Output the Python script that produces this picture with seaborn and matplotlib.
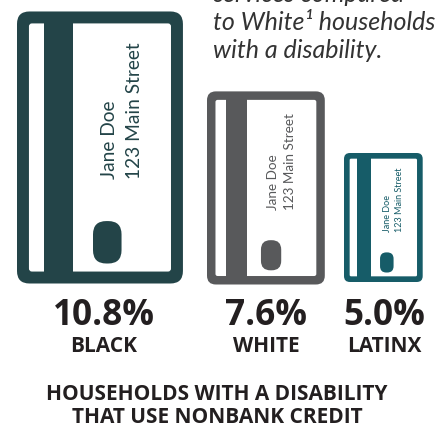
import matplotlib
matplotlib.use("Agg")
import matplotlib.pyplot as plt
from matplotlib.patches import FancyBboxPatch
import pandas as pd
import seaborn as sns

# Share of households with a disability that use nonbank credit
groups = ["BLACK", "WHITE", "LATINX"]
shares = [10.8, 7.6, 5.0]
share_labels = ["10.8%", "7.6%", "5.0%"]
card_colors = ["#234448", "#58595b", "#165c68"]
holder_name = "Jane Doe"
holder_address = "123 Main Street"
intro_lines = ["services compared", "to White\u00b9 households", "with a disability."]
caption_lines = ["HOUSEHOLDS WITH A DISABILITY", "THAT USE NONBANK CREDIT"]

W, H = 441, 424
PX_PER_UNIT = 24.66      # card height per percentage point
ZERO_PX = 280.7          # pixel row of a 0% card
EDGE_PAD = 2.85          # card outline beyond the value, in pixels
ASPECT = 0.61            # card width / height
left_px = [17.0, 207.0, 344.0]
base_px = [283.5, 284.5, 282.0]
name_sizes = [13.8, 9.7, 6.5]

sns.set_theme(style="white")
plt.rcParams["font.family"] = ["Lato", "DejaVu Sans"]
BOLD_FONT = ["Open Sans", "DejaVu Sans"]
INK = "#231f20"

fig = plt.figure(figsize=(W / 100, H / 100), dpi=100, facecolor="white")
ax = fig.add_axes([0, 0, 1, 1])

table = pd.DataFrame({"group": groups, "share": shares})
sns.barplot(data=table, x="group", y="share", hue="group", palette=card_colors,
            legend=False, ax=ax, saturation=1, width=0.5, linewidth=0)
ax.set_axis_off()
ax.set_xlim(0, W)
ax.set_ylim((ZERO_PX - H) / PX_PER_UNIT, ZERO_PX / PX_PER_UNIT)
bars = list(ax.patches)


def to_y(px):
    return (ZERO_PX - px) / PX_PER_UNIT


def rounded(x, y_px, w, h_px, radius, color, z):
    """Rounded box placed in pixel-like units on the value axis."""
    patch = FancyBboxPatch((x, to_y(y_px)), w, h_px / PX_PER_UNIT,
                           boxstyle=f"round,pad=0,rounding_size={radius}",
                           mutation_aspect=1 / PX_PER_UNIT,
                           fc=color, ec="none", zorder=z)
    ax.add_patch(patch)


for bar, share, x0, base, color, size in zip(bars, shares, left_px, base_px,
                                             card_colors, name_sizes):
    card_h = share * PX_PER_UNIT + 2 * EDGE_PAD
    card_w = card_h * ASPECT
    stroke = card_w * 0.072

    rounded(x0, base, card_w, card_h, card_w * 0.075, color, 1)
    rounded(x0 + stroke, base - stroke, card_w - 2 * stroke, card_h - 2 * stroke,
            card_w * 0.018, "white", 2)

    # The magnetic stripe is the bar itself
    bar.set_x(x0 + card_w * 0.163)
    bar.set_width(card_w * 0.175)
    bar.set_y(to_y(base - EDGE_PAD))
    bar.set_edgecolor("none")
    bar.set_zorder(3)

    # Chip
    rounded(x0 + card_w * 0.458, base - card_h * 0.0735, card_w * 0.172, card_h * 0.156,
            card_w * 0.08, color, 3)

    text_y = to_y(base - card_h * 0.384)
    ax.text(x0 + card_w * 0.558, text_y, holder_name, rotation=90, color=color,
            fontsize=size, ha="center", va="bottom", zorder=4)
    ax.text(x0 + card_w * 0.708, text_y, holder_address, rotation=90, color=color,
            fontsize=size, ha="center", va="bottom", zorder=4)


def put(x_px, y_px, text, **kw):
    fig.text(x_px / W, 1 - y_px / H, text, **kw)


for y_px, line in zip([2, 30, 58], intro_lines):
    put(213, y_px, line, fontsize=18, style="italic", color="#333333", va="baseline", ha="left")

for cx, label, group in zip([104, 266.5, 384], share_labels, groups):
    put(cx, 325, label, fontsize=25.3, fontweight="bold", family=BOLD_FONT, color=INK,
        ha="center", va="baseline")
    put(cx, 352, group, fontsize=15, fontweight="bold", family=BOLD_FONT, color=INK,
        ha="center", va="baseline")

for y_px, line in zip([400, 423], caption_lines):
    put(217, y_px, line, fontsize=15, fontweight="bold", family=BOLD_FONT, color=INK,
        ha="center", va="baseline")

fig.savefig("out.png", dpi=100, facecolor="white")
